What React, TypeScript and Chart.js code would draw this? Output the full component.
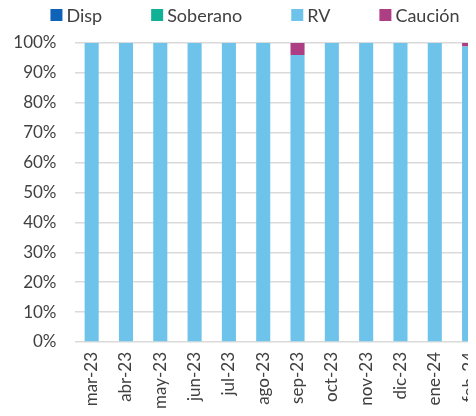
import React, { useEffect, useRef } from "react";
import { Chart, registerables } from "chart.js";

Chart.register(...registerables);

const categories = ["mar-23", "abr-23", "may-23", "jun-23", "jul-23", "ago-23", "sep-23", "oct-23", "nov-23", "dic-23", "ene-24", "feb-24"];
const disp = [0, 0, 0, 0, 0, 0, 0, 0, 0, 0, 0, 0];
const soberano = [0, 0, 0, 0, 0, 0, 0, 0, 0, 0, 0, 0];
const rv = [100, 100, 100, 100, 100, 100, 96, 100, 100, 100, 100, 98.8];
const caucion = [0, 0, 0, 0, 0, 0, 4, 0, 0, 0, 0, 1.2];

const FONT = "Lato, 'Noto Sans', sans-serif";
const TEXT = "#404040";

const legendPlugin = {
  id: "topLegend",
  afterDraw(chart: any) {
    const ctx = chart.ctx;
    ctx.save();
    ctx.font = `18px ${FONT}`;
    ctx.textBaseline = "middle";
    ctx.textAlign = "left";
    const items = chart.data.datasets.map((d: any) => ({
      label: d.label as string,
      color: d.backgroundColor as string,
      w: 12 + 4 + ctx.measureText(d.label).width,
    }));
    const gap = 49;
    const total = items.reduce((s: number, it: any) => s + it.w, 0) + gap * (items.length - 1);
    let x = 247 - total / 2;
    const yc = 15;
    for (const it of items) {
      ctx.fillStyle = it.color;
      ctx.fillRect(x, yc - 6, 12, 12);
      ctx.fillStyle = TEXT;
      ctx.fillText(it.label, x + 16, yc + 1);
      x += it.w + gap;
    }
    ctx.restore();
  },
};

export default function App() {
  const ref = useRef<HTMLCanvasElement | null>(null);
  useEffect(() => {
    document.documentElement.style.overflow = "hidden";
    document.body.style.overflow = "hidden";
    if (!ref.current) return;
    const mk = (label: string, data: number[], color: string) => ({
      label,
      data,
      backgroundColor: color,
      borderWidth: 0,
      barPercentage: 0.41,
      categoryPercentage: 1,
    });
    const chart = new Chart(ref.current, {
      type: "bar",
      data: {
        labels: categories,
        datasets: [
          mk("Disp", disp, "#0E63B9"),
          mk("Soberano", soberano, "#10B195"),
          mk("RV", rv, "#6DC3EA"),
          mk("Caución", caucion, "#AE3E84"),
        ],
      },
      plugins: [legendPlugin],
      options: {
        animation: false,
        responsive: false,
        layout: { padding: { top: 43, right: 12, left: 4, bottom: 0 } },
        plugins: {
          tooltip: { enabled: false },
          legend: { display: false },
        },
        scales: {
          x: {
            stacked: true,
            grid: { display: false, drawTicks: false },
            border: { display: false },
            afterFit: (s: any) => { s.height = 74; },
            ticks: {
              font: { family: FONT, size: 17 },
              color: TEXT,
              minRotation: 90,
              maxRotation: 90,
              padding: 10,
              autoSkip: false,
            },
          },
          y: {
            stacked: true,
            min: 0,
            max: 100,
            grid: { color: "#DADADA", lineWidth: 1.5, drawTicks: false },
            border: { display: false },
            afterFit: (s: any) => { s.width = 62.5; },
            ticks: {
              stepSize: 10,
              autoSkip: false,
              font: { family: FONT, size: 17 },
              color: TEXT,
              padding: 18,
              callback: (v: any) => v + "%",
            },
          },
        },
      },
    });
    return () => chart.destroy();
  }, []);
  return (
    <div style={{ width: 492, height: 416, overflow: "hidden", marginTop: -8 }}>
      <canvas ref={ref} width={492} height={416} style={{ display: "block" }} />
    </div>
  );
}
